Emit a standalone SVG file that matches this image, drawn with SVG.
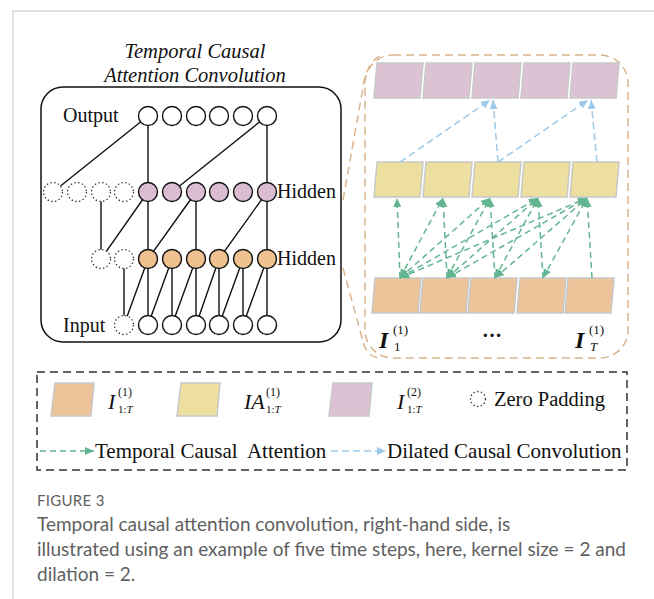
<svg xmlns="http://www.w3.org/2000/svg" width="654" height="599" viewBox="0 0 654 599">
<style>
.serif{font-family:"Liberation Serif","Times New Roman",serif;fill:#111}
.it{font-style:italic}
.ln{stroke:#111;stroke-width:1.4;fill:none}
.node{stroke:#111;stroke-width:1.4}
.dot{fill:#fff;stroke:#333;stroke-width:1.3;stroke-dasharray:1.4,2.4}
.blk{stroke:#c8c8c8;stroke-width:1.5}
.green{stroke:#62b590;stroke-width:1.5;stroke-dasharray:6,4;fill:none}
.blue{stroke:#9dc9e8;stroke-width:1.5;stroke-dasharray:7,4;fill:none}
.tan{stroke:#d9b48e;stroke-width:1.5;stroke-dasharray:8,5;fill:none}
.cap{font-family:Lato,"Open Sans",sans-serif;fill:#5f5f5f}
</style>
<defs>
<marker id="ag" markerUnits="userSpaceOnUse" markerWidth="10" markerHeight="10" refX="9" refY="4" orient="auto-start-reverse"><path d="M0,0 L9,4 L0,8 Z" fill="#62b590"/></marker>
<marker id="ab" markerUnits="userSpaceOnUse" markerWidth="10" markerHeight="10" refX="9" refY="4" orient="auto"><path d="M0,0 L9,4 L0,8 Z" fill="#9dc9e8"/></marker>
<polygon id="pg" points="3,0 49,0 46,35 0,35"/>
</defs>

<!-- frame -->
<path d="M13,599 V11 H654" fill="none" stroke="#d6d6d6" stroke-width="1.5"/>

<!-- left panel -->
<g id="title">
<text class="serif it" x="195" y="58" text-anchor="middle" font-size="20.5" fill="#3a3a3a">Temporal Causal</text>
<text class="serif it" x="195" y="82" text-anchor="middle" font-size="20.5" fill="#3a3a3a">Attention Convolution</text>
</g>
<g id="tcac-box"><rect x="41" y="87" width="300" height="255" rx="22" fill="none" stroke="#111" stroke-width="1.5"/></g>

<g id="tcac-connectors">
<path class="ln" d="M148,116 L53,192 M148,116 V192 M267,116 L172,192 M267,116 V192
M101,192 V259 M148,192 L101,259 M148,192 V259 M196,192 L148,259 M196,192 V259 M267,192 L219,259 M267,192 V259
M124,259 V325 M148,259 L124,325 M148,259 V325 M172,259 L148,325 M172,259 V325 M196,259 L172,325 M196,259 V325
M219,259 L196,325 M219,259 V325 M243,259 L219,325 M243,259 V325 M267,259 L243,325 M267,259 V325"/>
</g>

<g id="output-layer">
<text class="serif" x="63" y="122" font-size="20">Output</text>
<g fill="#fff" class="node">
<circle cx="148" cy="116" r="9.5"/><circle cx="172" cy="116" r="9.5"/><circle cx="196" cy="116" r="9.5"/><circle cx="219" cy="116" r="9.5"/><circle cx="243" cy="116" r="9.5"/><circle cx="267" cy="116" r="9.5"/>
</g>
</g>
<g id="hidden-layer-1">
<circle class="dot" cx="53" cy="192" r="9.5"/><circle class="dot" cx="77" cy="192" r="9.5"/><circle class="dot" cx="101" cy="192" r="9.5"/><circle class="dot" cx="124" cy="192" r="9.5"/>
<g fill="#dbbdd1" class="node">
<circle cx="148" cy="192" r="9.5"/><circle cx="172" cy="192" r="9.5"/><circle cx="196" cy="192" r="9.5"/><circle cx="219" cy="192" r="9.5"/><circle cx="243" cy="192" r="9.5"/><circle cx="267" cy="192" r="9.5"/>
</g>
<text class="serif" x="277" y="198" font-size="20">Hidden</text>
</g>
<g id="hidden-layer-2">
<circle class="dot" cx="101" cy="259" r="9.5"/><circle class="dot" cx="124" cy="259" r="9.5"/>
<g fill="#efc18f" class="node">
<circle cx="148" cy="259" r="9.5"/><circle cx="172" cy="259" r="9.5"/><circle cx="196" cy="259" r="9.5"/><circle cx="219" cy="259" r="9.5"/><circle cx="243" cy="259" r="9.5"/><circle cx="267" cy="259" r="9.5"/>
</g>
<text class="serif" x="277" y="265" font-size="20">Hidden</text>
</g>
<g id="input-layer">
<text class="serif" x="63" y="332" font-size="20">Input</text>
<circle class="dot" cx="124" cy="325" r="9.5"/>
<g fill="#fff" class="node">
<circle cx="148" cy="325" r="9.5"/><circle cx="172" cy="325" r="9.5"/><circle cx="196" cy="325" r="9.5"/><circle cx="219" cy="325" r="9.5"/><circle cx="243" cy="325" r="9.5"/><circle cx="267" cy="325" r="9.5"/>
</g>
</g>

<!-- zoom lines and right panel -->
<g id="zoom-lines">
<path class="tan" d="M343,200 L364,82 Q368,62 380,56"/>
<path class="tan" d="M343,268 L364,345 Q368,356 378,358"/>
</g>
<g id="attention-panel"><rect class="tan" x="365" y="55" width="263" height="303" rx="28"/></g>

<g id="output-blocks" fill="#dcc3d3">
<use href="#pg" class="blk" x="374" y="63"/><use href="#pg" class="blk" x="423" y="63"/><use href="#pg" class="blk" x="472" y="63"/><use href="#pg" class="blk" x="521" y="63"/><use href="#pg" class="blk" x="570" y="63"/>
</g>
<g id="attention-blocks" fill="#ecdf9f">
<use href="#pg" class="blk" x="374" y="162"/><use href="#pg" class="blk" x="423" y="162"/><use href="#pg" class="blk" x="472" y="162"/><use href="#pg" class="blk" x="521" y="162"/><use href="#pg" class="blk" x="570" y="162"/>
</g>
<g id="input-blocks" fill="#edc49a">
<use href="#pg" class="blk" x="372" y="278"/><use href="#pg" class="blk" x="420" y="278"/><use href="#pg" class="blk" x="468" y="278"/><use href="#pg" class="blk" x="517" y="278"/><use href="#pg" class="blk" x="565" y="278"/>
</g>

<g id="connectors">
<g class="blue">
<path d="M400,162 L490,100" marker-end="url(#ab)"/>
<path d="M498,162 L493,100" marker-end="url(#ab)"/>
<path d="M498,162 L588,100" marker-end="url(#ab)"/>
<path d="M597,162 L591,100" marker-end="url(#ab)"/>
</g>
<g class="green">
<path d="M400,278 L397,198" marker-end="url(#ag)"/>
<path d="M447,278 L443,198" marker-end="url(#ag)"/>
<path d="M495,278 L490,198" marker-end="url(#ag)"/>
<path d="M543,278 L538,198" marker-end="url(#ag)"/>
<path d="M592,278 L587,198" marker-end="url(#ag)"/>
<path d="M400,278 L443,198" marker-start="url(#ag)" marker-end="url(#ag)"/>
<path d="M400,278 L490,198" marker-start="url(#ag)" marker-end="url(#ag)"/>
<path d="M400,278 L538,198" marker-start="url(#ag)" marker-end="url(#ag)"/>
<path d="M400,278 L587,198" marker-start="url(#ag)" marker-end="url(#ag)"/>
<path d="M447,278 L490,198" marker-start="url(#ag)" marker-end="url(#ag)"/>
<path d="M447,278 L538,198" marker-start="url(#ag)" marker-end="url(#ag)"/>
<path d="M447,278 L587,198" marker-start="url(#ag)" marker-end="url(#ag)"/>
<path d="M495,278 L538,198" marker-start="url(#ag)" marker-end="url(#ag)"/>
<path d="M495,278 L587,198" marker-start="url(#ag)" marker-end="url(#ag)"/>
<path d="M543,278 L587,198" marker-start="url(#ag)" marker-end="url(#ag)"/>
</g>
</g>

<g id="panel-labels">
<text class="serif it" x="379" y="348" font-size="24" font-weight="bold">I</text>
<text class="serif" x="393" y="334" font-size="13">(1)</text>
<text class="serif" x="394" y="351" font-size="13">1</text>
<text class="serif" x="482" y="342" font-size="20" font-weight="bold">···</text>
<text class="serif it" x="575" y="348" font-size="24" font-weight="bold">I</text>
<text class="serif" x="589" y="334" font-size="13">(1)</text>
<text class="serif it" x="590" y="351" font-size="13">T</text>
</g>

<!-- legend -->
<g id="legend">
<rect x="37" y="372" width="590" height="98" fill="none" stroke="#333" stroke-width="1.5" stroke-dasharray="8,5"/>
<polygon points="55,383 94,383 91,416 51,416" fill="#edc49a" class="blk"/>
<text class="serif it" x="108" y="409" font-size="22">I</text>
<text class="serif" x="118" y="396" font-size="12">(1)</text>
<text class="serif" x="118" y="413" font-size="11">1:<tspan font-style="italic">T</tspan></text>
<polygon points="181,383 220,383 217,416 177,416" fill="#ecdf9f" class="blk"/>
<text class="serif it" x="244" y="409" font-size="22">IA</text>
<text class="serif" x="266" y="396" font-size="12">(1)</text>
<text class="serif" x="266" y="413" font-size="11">1:<tspan font-style="italic">T</tspan></text>
<polygon points="333,383 372,383 369,416 329,416" fill="#dcc3d3" class="blk"/>
<text class="serif it" x="397" y="409" font-size="22">I</text>
<text class="serif" x="407" y="396" font-size="12">(2)</text>
<text class="serif" x="407" y="413" font-size="11">1:<tspan font-style="italic">T</tspan></text>
<circle class="dot" cx="478" cy="399" r="7.5"/>
<text class="serif" x="494" y="406" font-size="20.5">Zero Padding</text>
<path class="green" d="M40,451 L94,451" marker-end="url(#ag)"/>
<text class="serif" x="95" y="458" font-size="21" style="white-space:pre">Temporal Causal  Attention</text>
<path class="blue" d="M331,451 L386,451" marker-end="url(#ab)"/>
<text class="serif" x="387" y="458" font-size="21">Dilated Causal Convolution</text>
</g>

<!-- caption -->
<g id="caption">
<text class="cap" x="37" y="506" font-size="15" letter-spacing="0.3" fill="#6a6a6a">FIGURE 3</text>
<text class="cap" x="37" y="531" font-size="19">Temporal causal attention convolution, right-hand side, is</text>
<text class="cap" x="37" y="556" font-size="19">illustrated using an example of five time steps, here, kernel size = 2 and</text>
<text class="cap" x="37" y="581" font-size="19">dilation = 2.</text>
</g>
</svg>
